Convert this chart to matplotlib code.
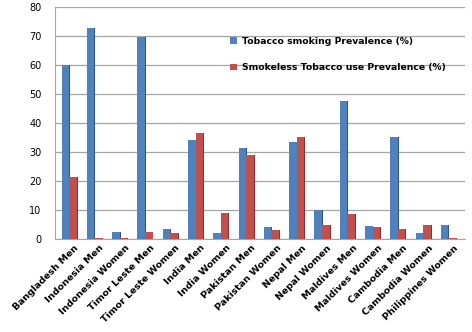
import matplotlib

matplotlib.use("Agg")
import matplotlib.pyplot as plt  # noqa: E402
import numpy as np  # noqa: E402

categories = [
    "Bangladesh Men", "Indonesia Men", "Indonesia Women", "Timor Leste Men",
    "Timor Leste Women", "India Men", "India Women", "Pakistan Men",
    "Pakistan Women", "Nepal Men", "Nepal Women", "Maldives Men",
    "Maldives Women", "Cambodia Men", "Cambodia Women", "Philippines Women",
]
smoking = [60, 72.5, 2.5, 69.5, 3.5, 34, 2, 31.5, 4, 33.5, 10, 47.5, 4.5, 35, 2, 5]
smokeless = [21.5, 0.5, 0.5, 2.5, 2, 36.5, 9, 29, 3, 35, 5, 8.5, 4, 3.5, 5, 0.5]
labels = ["Tobacco smoking Prevalence (%)", "Smokeless Tobacco use Prevalence (%)"]

BLUE, BLUE_SIDE = "#4F81BD", "#2E5481"
RED, RED_SIDE = "#C0504D", "#8A302E"

fig = plt.figure(figsize=(4.72, 3.32), dpi=100)
ax = fig.add_axes([0.117, 0.28, 0.868, 0.70])

x = np.arange(len(categories))
w = 0.3
side = 0.07
ax.bar(x - w / 2 + side / 2, smoking, w, color=BLUE_SIDE, zorder=2)
ax.bar(x - w / 2, smoking, w, color=BLUE, label=labels[0], zorder=3)
ax.bar(x + w / 2 + side / 2, smokeless, w, color=RED_SIDE, zorder=2)
ax.bar(x + w / 2, smokeless, w, color=RED, label=labels[1], zorder=3)

ax.set_ylim(0, 80)
ax.set_yticks(range(0, 81, 10))
ax.set_xlim(-0.55, len(categories) - 0.35)
ax.grid(axis="y", color="#A6A6A6", linewidth=0.9, zorder=0)
ax.tick_params(axis="y", labelsize=7, length=0, pad=10)
ax.tick_params(axis="x", length=0, pad=3)
for s in ["top", "right"]:
    ax.spines[s].set_visible(False)
ax.spines["left"].set_color("#A6A6A6")
ax.spines["bottom"].set_color("#A6A6A6")

ax.set_xticks(x + 0.2)
ax.set_xticklabels(categories, rotation=45, ha="right", rotation_mode="anchor",
                   fontsize=6.8, fontweight="bold")

ax.legend(loc="upper left", bbox_to_anchor=(0.405, 0.905), frameon=False,
          prop={"weight": "bold", "size": 6.7},
          handlelength=0.75, handleheight=0.75, handletextpad=0.6, labelspacing=1.85)

fig.savefig("out.png")
